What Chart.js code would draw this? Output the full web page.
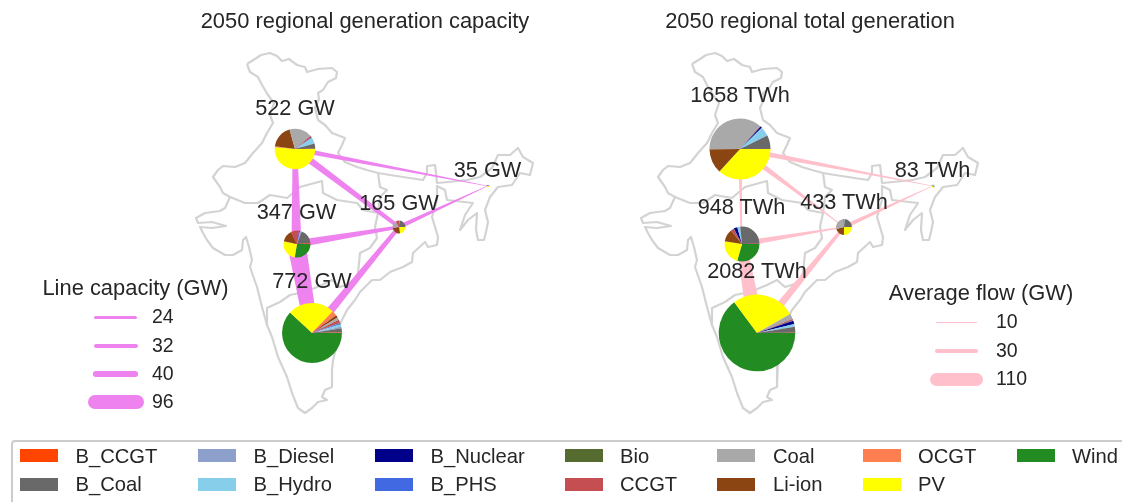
<!DOCTYPE html>
<html><head><meta charset="utf-8">
<script src="https://cdn.jsdelivr.net/npm/chart.js@4"></script>
<style>
html,body{margin:0;padding:0;background:#fff;}
#stage{position:relative;width:1122px;height:502px;overflow:hidden;font-family:"Liberation Sans",Arial,sans-serif;color:#262626;}
#stage canvas{position:absolute;}
.t{position:absolute;white-space:nowrap;line-height:1;z-index:5;}
.c{transform:translate(-50%,-50%);}
.l{transform:translateY(-50%);}
.key{position:absolute;background:#000;z-index:4;}
#frame{position:absolute;left:11px;top:440px;width:1200px;height:100px;border:2px solid #cccccc;border-radius:4px;box-sizing:border-box;}
</style></head><body><div id="stage"><div id="frame"></div></div>
<script>
// ---------- data ----------
const fuels=["B_CCGT","B_Coal","B_Diesel","B_Hydro","B_Nuclear","B_PHS","Bio","CCGT","Coal","Li-ion","OCGT","PV","Wind"];
const fuelColors=["#ff4500","#696969","#8da0cb","#87ceeb","#00008b","#4169e1","#556b2f","#c44e52","#a9a9a9","#8b4513","#ff7f50","#ffff00","#228b22"];
const regions=["North","Central","East","NorthEast","South"];
// installed capacity per region (GW), same order as fuels
const capNorth=[1,22,1,24,1,2,1,7,94,97,4,268,0];
const capCentral=[3,64,2,5,1,3,0,34,0,50,1,88,96];
const capEast=[0,39,0,2,0,0,0,14,32,41,0,37,0];
const capNorthEast=[0,5,0,6,0,0,0,0,0,5,0,19,0];
const capSouth=[2,18,6,10,1,5,1,13,11,11,21,195,478];
// generation per region (TWh)
const genNorth=[1,120,0,83,14,1,1,5,607,216,0,610,0];
const genCentral=[2,250,0,26,32,1,2,26,0,111,0,219,279];
const genEast=[0,102,0,8,0,0,0,10,114,90,0,109,0];
const genNorthEast=[0,0,0,30,0,0,0,0,0,8,0,30,15];
const genSouth=[2,52,2,23,29,2,3,12,46,0,0,560,1351];
const capTotals=[522,347,165,35,772];
const genTotals=[1658,948,433,83,2082];
// node location in map units
const nodeX=[295,296.5,399,487.5,312];
const nodeY=[149,244,227,186,333];
// links as region index pairs; width of each wedge at both ends
const linkFrom=[0,1,0,1,4,0,2];
const linkTo=[1,4,2,2,2,3,3];
const capWidthFrom=[4.7,18.5,7,7.5,9,5,4.5];
const capWidthTo=[10,13,4,3,4,0.4,0.4];
const genWidthFrom=[3.5,10,6.5,6,9,5.5,4.5];
const genWidthTo=[1.5,17,0.6,1,3,0.4,0.4];
// map outline (map units)
const outerBorderPath=[[247,64],[255,59],[261,55],[270,53],[277,56],[282,61],[289,59],[297,65],[305,67],[307,72],[318,69],[332,68],[337,72],[336,78],[328,82],[323,90],[318,93],[319,99],[315,108],[318,120],[325,125],[332,133],[345,138],[342,145],[338,153],[345,162],[357,167],[367,170],[378,173],[390,175],[403,177],[423,180],[427,173],[427,166],[435,165],[436,173],[437,183],[448,182],[467,180],[480,177],[492,168],[498,155],[510,155],[518,148],[523,157],[533,163],[530,175],[520,173],[512,185],[498,187],[490,197],[485,210],[488,222],[486,232],[484,240],[478,240],[476,230],[477,213],[468,220],[460,230],[465,215],[473,203],[447,200],[445,190],[437,186],[437,200],[432,217],[438,237],[437,245],[428,247],[425,242],[413,253],[412,262],[403,267],[390,272],[380,280],[372,280],[360,292],[355,300],[347,310],[337,330],[337,345],[333,360],[332,370],[332,387],[325,390],[322,397],[327,400],[318,402],[312,408],[305,413],[298,408],[292,393],[287,377],[278,357],[272,337],[267,325],[262,307],[257,287],[250,267],[252,260],[249,247],[246,237],[243,240],[242,250],[233,255],[225,255],[213,248],[207,240],[203,233],[200,227],[212,228],[226,226],[212,222],[198,223],[196,218],[205,213],[220,211],[225,208],[230,197],[223,193],[220,187],[213,177],[218,170],[223,166],[235,167],[245,163],[253,153],[262,143],[267,133],[273,123],[270,115],[274,103],[268,95],[262,85],[258,77],[250,72],[247,64]];
const northBorderPath=[[230,197],[245,203],[258,203],[270,195],[287,198],[300,187],[322,181],[323,193],[337,200],[357,203],[363,210],[378,213],[375,227],[377,238],[370,248],[360,253],[358,273],[353,283],[340,287],[332,280],[322,285],[305,292],[290,295],[280,302],[267,308],[267,325]];
const easternBorderPath=[[378,173],[380,187],[387,190],[380,197],[378,213]];
// legends
const capKeyValues=[24,32,40,96];
const flowKeyValues=[10,30,110];

// ---------- helpers ----------
const stage=document.getElementById('stage');
function addText(txt,x,y,size,cls){const d=document.createElement('div');d.className='t '+cls;d.textContent=txt;d.style.left=x+'px';d.style.top=y+'px';d.style.fontSize=size+'px';stage.appendChild(d);}
function addCanvas(left,top,w,h,z){const c=document.createElement('canvas');c.width=w;c.height=h;c.style.left=left+'px';c.style.top=top+'px';c.style.width=w+'px';c.style.height=h+'px';c.style.zIndex=z;stage.appendChild(c);return c;}
function wedge(a,b,wa,wb){
  const ax=nodeX[a],ay=nodeY[a],bx=nodeX[b],by=nodeY[b];
  const len=Math.hypot(bx-ax,by-ay),nx=-(by-ay)/len,ny=(bx-ax)/len;
  return [{x:ax+nx*wa/2,y:ay+ny*wa/2},{x:bx+nx*wb/2,y:by+ny*wb/2},{x:bx-nx*wb/2,y:by-ny*wb/2},{x:ax-nx*wa/2,y:ay-ny*wa/2},{x:ax+nx*wa/2,y:ay+ny*wa/2}];
}
const pts=p=>p.map(q=>({x:q[0],y:q[1]}));
function panel(cfg){
  const border=[outerBorderPath,northBorderPath,easternBorderPath].map(p=>({type:'scatter',data:pts(p),showLine:true,pointRadius:0,borderColor:'#d3d3d3',borderWidth:2.2,borderJoinStyle:'round',tension:0,order:3}));
  const flows=linkFrom.map((a,i)=>({type:'scatter',data:wedge(a,linkTo[i],cfg.wFrom[i],cfg.wTo[i]),showLine:true,pointRadius:0,borderWidth:0,borderColor:cfg.color,backgroundColor:cfg.color,fill:'shape',tension:0,order:1}));
  const cv=addCanvas(cfg.left,0,561,502,1);
  const chart=new Chart(cv,{type:'scatter',data:{datasets:[...border,...flows]},options:{responsive:false,animation:false,events:[],layout:{padding:0},plugins:{legend:{display:false},tooltip:{enabled:false},title:{display:false}},scales:{x:{type:'linear',display:false,min:cfg.xMin,max:cfg.xMin+561},y:{type:'linear',display:false,min:0,max:502,reverse:true}}}});
  const sx=chart.scales.x,sy=chart.scales.y;
  regions.forEach((r,i)=>{
    const cx=cfg.left+sx.getPixelForValue(nodeX[i]),cy=sy.getPixelForValue(nodeY[i]);
    const rad=cfg.totals[i]*cfg.radiusPerUnit,size=Math.ceil(rad)*2+2;
    const pc=addCanvas(Math.round(cx-size/2),Math.round(cy-size/2),size,size,2);
    new Chart(pc,{type:'pie',data:{labels:[...fuels].reverse(),datasets:[{data:[...cfg.values[i]].reverse(),backgroundColor:[...fuelColors].reverse(),borderWidth:0,hoverOffset:0}]},options:{responsive:false,animation:false,events:[],rotation:90,radius:rad,layout:{padding:0},plugins:{legend:{display:false},tooltip:{enabled:false}}}});
    addText(cfg.totals[i]+' '+cfg.unit,cx,cy+cfg.labelOffset[i],21.7,'c');
  });
}
panel({left:0,xMin:0,color:'#ee82ee',wFrom:capWidthFrom,wTo:capWidthTo,totals:capTotals,radiusPerUnit:0.0388,values:[capNorth,capCentral,capEast,capNorthEast,capSouth],unit:'GW',labelOffset:[-41,-32,-24,-16,-52]});
panel({left:561,xMin:116,color:'#ffc0cb',wFrom:genWidthFrom,wTo:genWidthTo,totals:genTotals,radiusPerUnit:0.0184,values:[genNorth,genCentral,genEast,genNorthEast,genSouth],unit:'TWh',labelOffset:[-54,-37,-25,-16,-62]});

addText('2050 regional generation capacity',365,21,21.9,'c');
addText('2050 regional total generation',810,21,21.9,'c');
addText('Line capacity (GW)',135.5,288,21.9,'c');
addText('Average flow (GW)',981,293,21.9,'c');
function lineKey(x0,x1,y,w,color){const d=document.createElement('div');d.className='key';d.style.cssText+=`left:${x0}px;top:${y-w/2}px;width:${x1-x0}px;height:${w}px;background:${color};border-radius:${w/2}px;`;stage.appendChild(d);}
const capKeyY=[317,346,374,402],capKeyW=[3,4,5.5,14],capKeyX0=[94,93.5,93,88],capKeyX1=[137,137.5,138,144];
capKeyValues.forEach((v,i)=>{lineKey(capKeyX0[i],capKeyX1[i],capKeyY[i],capKeyW[i],'#ee82ee');addText(String(v),152,capKeyY[i],19.5,'l');});
const flowKeyY=[322,351,379],flowKeyW=[1,3.5,13],flowKeyX0=[936,935,930],flowKeyX1=[977,978,983];
flowKeyValues.forEach((v,i)=>{lineKey(flowKeyX0[i],flowKeyX1[i],flowKeyY[i],flowKeyW[i],'#ffc0cb');addText(String(v),996,flowKeyY[i],19.5,'l');});
// fuel legend, column by column
const colX=[19.5,197.5,374.5,564.5,717,862.5,1016.5],textX=[75.5,253.5,430.5,620,773,918,1072],rowY=[455.5,484];
fuels.forEach((f,i)=>{const col=Math.floor(i/2),row=i%2;
  const d=document.createElement('div');d.className='key';d.style.cssText+=`left:${colX[col]}px;top:${rowY[row]-6.5}px;width:38px;height:13px;background:${fuelColors[i]};`;stage.appendChild(d);
  addText(f,textX[col],rowY[row],20.2,'l');});
</script></body></html>
